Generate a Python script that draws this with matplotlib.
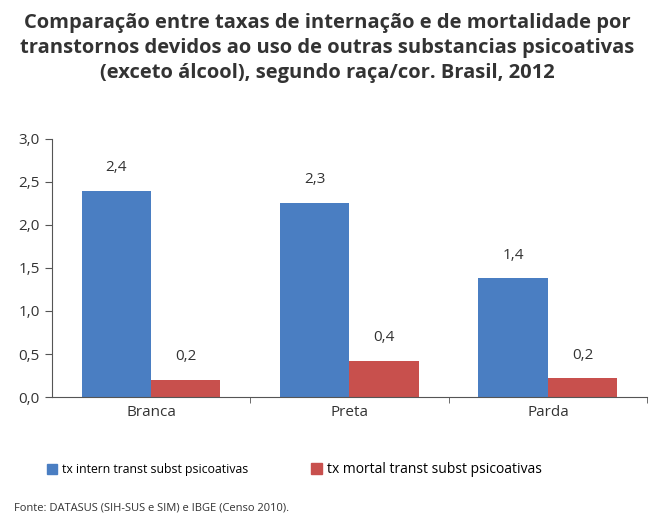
import matplotlib.pyplot as plt
import numpy as np

plt.rcParams["font.family"] = ["Open Sans", "DejaVu Sans"]

categories = ["Branca", "Preta", "Parda"]
tx_intern = [2.40, 2.26, 1.38]
tx_mortal = [0.20, 0.42, 0.22]
series_names = ["tx intern transt subst psicoativas", "tx mortal transt subst psicoativas"]
yticks = [0.0, 0.5, 1.0, 1.5, 2.0, 2.5, 3.0]

blue = "#4a7ec2"
red = "#c8504d"

fig = plt.figure(figsize=(6.55, 5.28), dpi=100)
ax = fig.add_axes([0.079, 0.248, 0.909, 0.489])

x = np.arange(len(categories))
w = 0.35
b1 = ax.bar(x - w / 2, tx_intern, w, color=blue)
b2 = ax.bar(x + w / 2, tx_mortal, w, color=red)

for bars, vals in [(b1, tx_intern), (b2, tx_mortal)]:
    for r, v in zip(bars, vals):
        ax.text(r.get_x() + r.get_width() / 2, v + 0.18, f"{v:.1f}".replace(".", ","),
                ha="center", va="bottom", fontsize=11, color="#333333")

ax.set_xlim(-0.5, 2.5)
ax.set_ylim(0, 3.0)
ax.set_yticks(yticks)
ax.set_yticklabels([f"{t:.1f}".replace(".", ",") for t in yticks], fontsize=11, color="#333333")
ax.set_xticks(x)
ax.set_xticklabels(categories, fontsize=11, color="#333333")
ax.set_xticks([0.5, 1.5, 2.5], minor=True)
ax.tick_params(axis="x", which="major", length=0, pad=6)
ax.tick_params(axis="x", which="minor", length=4, color="#555555")
ax.tick_params(axis="y", length=5, color="#555555")
for s in ["top", "right"]:
    ax.spines[s].set_visible(False)
ax.spines["left"].set_color("#555555")
ax.spines["bottom"].set_color("#555555")

fig.text(0.5, 0.975, "Comparação entre taxas de internação e de mortalidade por\n"
         "transtornos devidos ao uso de outras substancias psicoativas\n"
         "(exceto álcool), segundo raça/cor. Brasil, 2012",
         ha="center", va="top", fontsize=14.5, fontweight="bold", color="#333333",
         linespacing=1.33)

handles = [plt.Rectangle((0, 0), 1, 1, color=blue), plt.Rectangle((0, 0), 1, 1, color=red)]
fig.legend(handles[:1], series_names[:1], loc="center left", bbox_to_anchor=(0.055, 0.11),
           frameon=False, fontsize=8.8, handlelength=0.8, handleheight=0.8, handletextpad=0.4)
fig.legend(handles[1:], series_names[1:], loc="center left", bbox_to_anchor=(0.455, 0.11),
           frameon=False, fontsize=10, handlelength=0.8, handleheight=0.8, handletextpad=0.4)

fig.text(0.022, 0.038, "Fonte: DATASUS (SIH-SUS e SIM) e IBGE (Censo 2010).",
         fontsize=8, color="#333333", va="center")

fig.savefig("out.png", dpi=100)
